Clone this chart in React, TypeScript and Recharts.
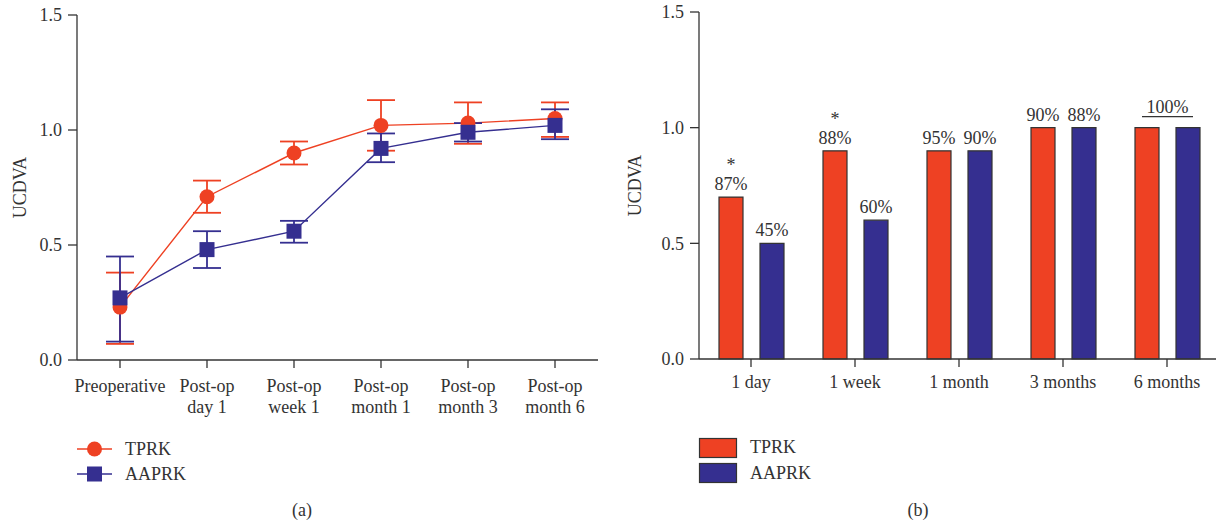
import React from 'react'
import { LineChart, Line, BarChart, Bar, XAxis, YAxis, ErrorBar, LabelList } from 'recharts'

const RED = '#EE4123'
const BLUE = '#352F90'
const INK = '#333333'
const FONT = '"Liberation Serif", "Times New Roman", serif'
const FS = 18

// panel (a)
const timepoints = ['Preoperative', 'Post-op\nday 1', 'Post-op\nweek 1', 'Post-op\nmonth 1', 'Post-op\nmonth 3', 'Post-op\nmonth 6']
const tprkMean = [0.23, 0.71, 0.9, 1.02, 1.03, 1.05]
const tprkErrLow = [0.16, 0.07, 0.05, 0.11, 0.09, 0.08]
const tprkErrHigh = [0.15, 0.07, 0.05, 0.11, 0.09, 0.07]
const aaprkMean = [0.27, 0.48, 0.56, 0.92, 0.99, 1.02]
const aaprkErrLow = [0.19, 0.08, 0.05, 0.06, 0.04, 0.06]
const aaprkErrHigh = [0.18, 0.08, 0.045, 0.065, 0.04, 0.07]

// panel (b)
const periods = ['1 day', '1 week', '1 month', '3 months', '6 months']
const tprkBars = [0.7, 0.9, 0.9, 1.0, 1.0]
const aaprkBars = [0.5, 0.6, 0.9, 1.0, 1.0]
const tprkPct = ['87%', '88%', '95%', '90%', '']
const aaprkPct = ['45%', '60%', '90%', '88%', '']
const stars = ['*', '*', '', '', '']
const sharedPct = ['', '', '', '', '100%']

const yTicks = [0, 0.5, 1.0, 1.5]

const lineData = timepoints.map((t, i) => ({
  name: t,
  tprk: tprkMean[i],
  tprkErr: [tprkErrLow[i], tprkErrHigh[i]],
  aaprk: aaprkMean[i],
  aaprkErr: [aaprkErrLow[i], aaprkErrHigh[i]],
}))

const barData = periods.map((p, i) => ({ name: p, tprk: tprkBars[i], aaprk: aaprkBars[i] }))

const tickStyle = { fontSize: FS, fill: INK, fontFamily: FONT }

function MultiLineTick(props: any) {
  const { x, y, payload } = props
  const lines = String(payload.value).split('\n')
  return (
    <text x={x} y={y} textAnchor="middle" fontSize={FS} fill={INK} fontFamily={FONT}>
      {lines.map((l, i) => (
        <tspan key={i} x={x} dy={i === 0 ? 22 : 21}>{l}</tspan>
      ))}
    </text>
  )
}

function BarTick(props: any) {
  const { x, y, payload } = props
  return (
    <text x={x} y={y + 19} textAnchor="middle" fontSize={FS} fill={INK} fontFamily={FONT}>
      {payload.value}
    </text>
  )
}

const CircleDot = (props: any) => {
  const { cx, cy, index } = props
  return <circle key={`c-${index}`} cx={cx} cy={cy} r={7.5} fill={RED} />
}

const SquareDot = (props: any) => {
  const { cx, cy, index } = props
  return <rect key={`s-${index}`} x={cx - 7.5} y={cy - 7.5} width={15} height={15} fill={BLUE} />
}

function pctLabel(texts: string[], extra?: string[]) {
  return (props: any) => {
    const { x, y, width, index } = props
    const cx = x + width / 2
    const t = texts[index]
    if (!t) return null
    return (
      <g key={`l-${index}`}>
        <text x={cx} y={y - 7} textAnchor="middle" fontSize={FS} fill={INK} fontFamily={FONT}>{t}</text>
        {extra && extra[index] ? (
          <text x={cx} y={y - 26} textAnchor="middle" fontSize={FS} fill={INK} fontFamily={FONT}>{extra[index]}</text>
        ) : null}
      </g>
    )
  }
}

function sharedLabel(props: any) {
  const { x, y, width, index } = props
  const t = sharedPct[index]
  if (!t) return null
  const cx = x + width + 8.5
  return (
    <g key={`sh-${index}`}>
      <text x={cx} y={y - 15} textAnchor="middle" fontSize={FS} fill={INK} fontFamily={FONT}>{t}</text>
      <line x1={cx - 25.5} x2={cx + 25.5} y1={y - 11} y2={y - 11} stroke={INK} strokeWidth={1.2} />
    </g>
  )
}

export default function App() {
  return (
    <div style={{ position: 'absolute', left: 0, top: 0, width: 1216, height: 524, overflow: 'hidden', background: '#fff', fontFamily: FONT }}>
      <div style={{ position: 'absolute', left: 0, top: 0 }}>
        <LineChart width={620} height={524} data={lineData} margin={{ top: 15, right: 22, bottom: 104, left: 17 }}>
          <XAxis dataKey="name" height={60} interval={0} tick={<MultiLineTick />} tickSize={8} tickMargin={2}
            axisLine={{ stroke: INK, strokeWidth: 1.3 }} tickLine={{ stroke: INK, strokeWidth: 1.3 }} padding={{ left: 43, right: 43 }} />
          <YAxis width={60} domain={[0, 1.5]} ticks={yTicks} tickFormatter={(v: number) => v.toFixed(1)} tickSize={9} tickMargin={6}
            tick={tickStyle} axisLine={{ stroke: INK, strokeWidth: 1.3 }} tickLine={{ stroke: INK, strokeWidth: 1.3 }}
            label={{ value: 'UCDVA', angle: -90, position: 'insideLeft', offset: 3, style: { textAnchor: 'middle', fontSize: FS, fill: INK, fontFamily: FONT } }} />
          <Line dataKey="tprk" stroke={RED} strokeWidth={1.4} dot={CircleDot} activeDot={false} isAnimationActive={false}>
            <ErrorBar dataKey="tprkErr" width={14} stroke={RED} strokeWidth={1.8} direction="y" />
          </Line>
          <Line dataKey="aaprk" stroke={BLUE} strokeWidth={1.4} dot={SquareDot} activeDot={false} isAnimationActive={false}>
            <ErrorBar dataKey="aaprkErr" width={14} stroke={BLUE} strokeWidth={1.8} direction="y" />
          </Line>
        </LineChart>
      </div>

      <div style={{ position: 'absolute', left: 620, top: 0 }}>
        <BarChart width={600} height={524} data={barData} margin={{ top: 12, right: 1, bottom: 105, left: 19 }} barSize={24} barGap={17}>
          <XAxis dataKey="name" height={60} interval={0} tick={<BarTick />} tickSize={8} tickMargin={2}
            axisLine={{ stroke: INK, strokeWidth: 1.3 }} tickLine={{ stroke: INK, strokeWidth: 1.3 }} />
          <YAxis width={60} domain={[0, 1.5]} ticks={yTicks} tickFormatter={(v: number) => v.toFixed(1)} tickSize={9} tickMargin={6}
            tick={tickStyle} axisLine={{ stroke: INK, strokeWidth: 1.3 }} tickLine={{ stroke: INK, strokeWidth: 1.3 }}
            label={{ value: 'UCDVA', angle: -90, position: 'insideLeft', offset: -4, style: { textAnchor: 'middle', fontSize: FS, fill: INK, fontFamily: FONT } }} />
          <Bar dataKey="tprk" fill={RED} stroke={INK} strokeWidth={1.2} isAnimationActive={false}>
            <LabelList dataKey="tprk" content={pctLabel(tprkPct, stars)} />
            <LabelList dataKey="tprk" content={sharedLabel} />
          </Bar>
          <Bar dataKey="aaprk" fill={BLUE} stroke={INK} strokeWidth={1.2} isAnimationActive={false}>
            <LabelList dataKey="aaprk" content={pctLabel(aaprkPct)} />
          </Bar>
        </BarChart>
      </div>

      <svg width={1216} height={524} style={{ position: 'absolute', left: 0, top: 0, pointerEvents: 'none' }}>
        <g fontFamily={FONT} fontSize={FS} fill={INK}>
          <line x1={77} x2={112} y1={449} y2={449} stroke={RED} strokeWidth={1.4} />
          <circle cx={94.5} cy={449} r={7.5} fill={RED} />
          <text x={125} y={455}>TPRK</text>
          <line x1={77} x2={112} y1={474} y2={474} stroke={BLUE} strokeWidth={1.4} />
          <rect x={87} y={466.5} width={15} height={15} fill={BLUE} />
          <text x={125} y={480}>AAPRK</text>
          <text x={302} y={516} textAnchor="middle">(a)</text>

          <rect x={699.5} y={438.5} width={37} height={19} fill={RED} stroke={INK} strokeWidth={1.2} />
          <text x={750} y={453}>TPRK</text>
          <rect x={699.5} y={463.5} width={37} height={19} fill={BLUE} stroke={INK} strokeWidth={1.2} />
          <text x={750} y={479}>AAPRK</text>
          <text x={918} y={516} textAnchor="middle">(b)</text>
        </g>
      </svg>
    </div>
  )
}
